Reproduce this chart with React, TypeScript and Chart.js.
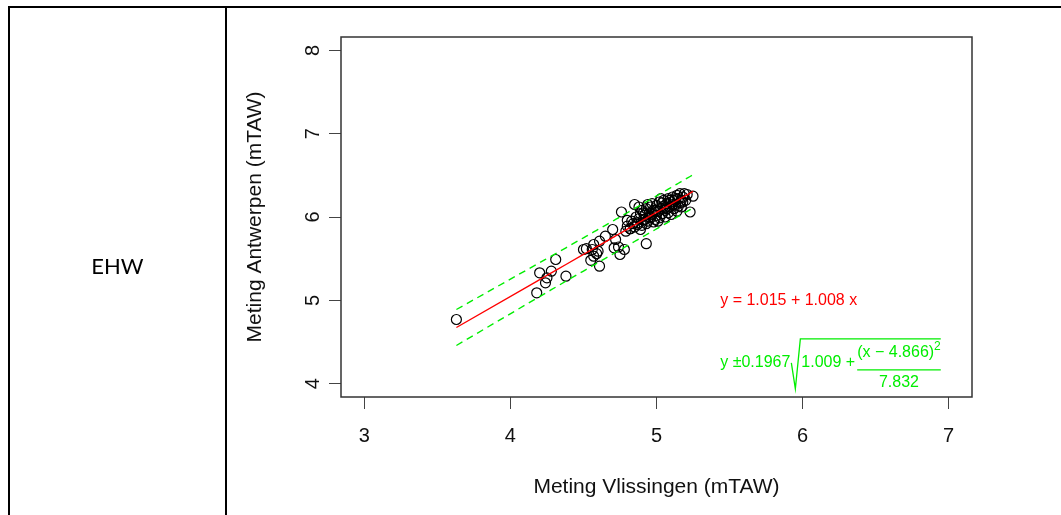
import React, { useEffect, useRef } from "react";
import { Chart, registerables } from "chart.js";

Chart.register(...registerables);

// ---- axis data ----
const xTicks = [3, 4, 5, 6, 7];
const yTicks = [4, 5, 6, 7, 8];
const xLimits = [2.84, 7.16];
const yLimits = [3.84, 8.16];

// ---- observations (Vlissingen x, Antwerpen y) ----
const vlissingen = [
  3.63, 4.18, 4.2, 4.24, 4.25, 4.28, 4.31, 4.38,
  4.5, 4.52, 4.55, 4.56, 4.57, 4.57, 4.59, 4.6, 4.61, 4.61, 4.65, 4.7, 4.71, 4.72, 4.74, 4.75,
  4.76, 4.78, 4.79, 4.8, 4.8, 4.82, 4.84, 4.85, 4.89, 4.93, 4.94, 4.98,
  4.82, 4.83, 4.85, 4.86, 4.87, 4.88, 4.89, 4.9, 4.9, 4.91, 4.92, 4.93, 4.94, 4.95, 4.96, 4.96,
  4.97, 4.98, 4.99, 5.0, 5.0, 5.01, 5.02, 5.02, 5.03, 5.04, 5.05, 5.05, 5.06, 5.06, 5.07, 5.08,
  5.08, 5.09, 5.1, 5.1, 5.11, 5.12, 5.12, 5.13, 5.14, 5.14, 5.15, 5.16, 5.16, 5.17, 5.18, 5.19,
  5.2, 5.21, 5.23, 5.25, 4.88, 4.97, 5.03, 4.93, 5.01, 5.09, 4.95, 5.04, 5.13, 5.07, 5.0, 4.91,
  5.15, 5.18, 4.87, 4.99, 5.11, 5.06, 4.92, 5.17
];
const antwerpen = [
  4.77, 5.09, 5.33, 5.21, 5.27, 5.35, 5.49, 5.29,
  5.61, 5.62, 5.48, 5.61, 5.53, 5.67, 5.56, 5.59, 5.41, 5.71, 5.77, 5.85, 5.63, 5.73, 5.64, 5.55,
  6.06, 5.61, 5.83, 5.89, 5.96, 5.86, 5.92, 6.15, 5.85, 5.68, 6.15, 5.94,
  5.86, 5.95, 5.88, 6.0, 5.93, 5.98, 6.04, 5.9, 6.08, 5.97, 6.02, 6.1, 5.95, 6.05, 5.99, 6.12,
  6.03, 6.08, 5.97, 6.02, 6.14, 6.07, 5.99, 6.18, 6.1, 6.04, 6.13, 6.2, 6.0, 6.08, 6.16, 6.05,
  6.22, 6.12, 6.18, 6.03, 6.24, 6.1, 6.2, 6.15, 6.26, 6.07, 6.22, 6.17, 6.28, 6.12, 6.24, 6.28,
  6.2, 6.27, 6.06, 6.25, 6.12, 6.16, 6.22, 5.92, 5.95, 6.2, 6.0, 6.17, 6.22, 6.1, 6.08, 6.05,
  6.13, 6.18, 5.91, 6.06, 6.15, 6.11, 5.97, 6.2
];

// ---- regression shown in the figure ----
const fitIntercept = 1.015;
const fitSlope = 1.008;
const bandFactor = 0.1967;
const bandConst = 1.009;
const bandMeanX = 4.866;
const bandSxx = 7.832;

// ---- texts ----
const xTitle = "Meting Vlissingen (mTAW)";
const yTitle = "Meting Antwerpen (mTAW)";
const rowLabel = "EHW";
const fitLabel = "y = 1.015 + 1.008 x";
const bandPrefix = "y \u00B10.1967";
const bandInner = "1.009 +";
const bandNum = "(x \u2212 4.866)";
const bandSup = "2";
const bandDen = "7.832";
const labelAnchorX = 5.436;
const fitLabelY = 5.0;
const bandLabelY = 4.25;

const FONT = "'Liberation Sans', Arial, Helvetica, sans-serif";
const RED = "#ff0000";
const GREEN = "#00ee00";

const lineXs = Array.from(new Set(vlissingen)).sort((a, b) => a - b);
const fitPts = lineXs.map((x) => ({ x, y: fitIntercept + fitSlope * x }));
const halfWidth = (x: number) =>
  bandFactor * Math.sqrt(bandConst + ((x - bandMeanX) * (x - bandMeanX)) / bandSxx);
const upperPts = lineXs.map((x) => ({ x, y: fitIntercept + fitSlope * x + halfWidth(x) }));
const lowerPts = lineXs.map((x) => ({ x, y: fitIntercept + fitSlope * x - halfWidth(x) }));
const scatterPts = vlissingen.map((x, i) => ({ x, y: antwerpen[i] }));

const overlayPlugin = {
  id: "overlay",
  afterDraw(chart: any) {
    const { ctx, chartArea, scales } = chart;
    const xs = scales.x;
    const ys = scales.y;
    ctx.save();
    // box
    ctx.strokeStyle = "#333";
    ctx.lineWidth = 1.5;
    ctx.strokeRect(chartArea.left, chartArea.top, chartArea.right - chartArea.left, chartArea.bottom - chartArea.top);

    // red fit label
    const x0 = xs.getPixelForValue(labelAnchorX);
    ctx.font = `16px ${FONT}`;
    ctx.textBaseline = "middle";
    ctx.textAlign = "left";
    ctx.fillStyle = RED;
    ctx.fillText(fitLabel, x0, ys.getPixelForValue(fitLabelY));

    // green band label
    const ym = ys.getPixelForValue(bandLabelY);
    ctx.fillStyle = GREEN;
    ctx.strokeStyle = GREEN;
    ctx.lineWidth = 1.3;
    ctx.font = `16px ${FONT}`;
    ctx.fillText(bandPrefix, x0, ym);
    const w1 = ctx.measureText(bandPrefix).width;
    const sx = x0 + w1 + 1;
    const innerX = sx + 10;
    const wInner = ctx.measureText(bandInner).width;
    const numW = ctx.measureText(bandNum).width;
    const denW = ctx.measureText(bandDen).width;
    ctx.font = `12px ${FONT}`;
    const supW = ctx.measureText(bandSup).width;
    const fracX = innerX + wInner + 2;
    const fracW = Math.max(numW + supW, denW);
    const fracEnd = fracX + fracW;
    // radical
    ctx.beginPath();
    ctx.moveTo(sx, ym);
    ctx.lineTo(sx + 4, ym + 26);
    ctx.lineTo(sx + 9, ym - 24);
    ctx.lineTo(fracEnd, ym - 24);
    ctx.stroke();
    // fraction bar
    ctx.beginPath();
    ctx.moveTo(fracX, ym + 7);
    ctx.lineTo(fracEnd, ym + 7);
    ctx.stroke();
    ctx.font = `16px ${FONT}`;
    ctx.fillText(bandInner, innerX, ym);
    const numStart = fracX;
    ctx.fillText(bandNum, numStart, ym - 10);
    ctx.font = `12px ${FONT}`;
    ctx.fillText(bandSup, numStart + numW, ym - 16);
    ctx.font = `16px ${FONT}`;
    ctx.textAlign = "center";
    ctx.fillText(bandDen, fracX + fracW / 2, ym + 20);
    ctx.restore();
  },
};

export default function App() {
  const ref = useRef<HTMLCanvasElement | null>(null);
  useEffect(() => {
    if (!ref.current) return;
    Chart.defaults.font.family = FONT;
    const chart = new Chart(ref.current, {
      type: "scatter",
      data: {
        datasets: [
          {
            type: "line",
            data: fitPts,
            borderColor: RED,
            borderWidth: 1.4,
            pointRadius: 0,
            fill: false,
            tension: 0,
          } as any,
          {
            type: "line",
            data: upperPts,
            borderColor: GREEN,
            borderWidth: 1.4,
            borderDash: [7, 5],
            pointRadius: 0,
            fill: false,
            tension: 0,
          } as any,
          {
            type: "line",
            data: lowerPts,
            borderColor: GREEN,
            borderWidth: 1.4,
            borderDash: [7, 5],
            pointRadius: 0,
            fill: false,
            tension: 0,
          } as any,
          {
            type: "scatter",
            data: scatterPts,
            pointStyle: "circle",
            pointRadius: 5,
            pointBorderWidth: 1.2,
            pointBorderColor: "#000",
            pointBackgroundColor: "rgba(0,0,0,0)",
          } as any,
        ],
      },
      options: {
        animation: false,
        responsive: false,
        devicePixelRatio: 1,
        layout: { padding: { left: 230, top: 37, right: 89, bottom: 0 } },
        plugins: { legend: { display: false }, tooltip: { enabled: false } },
        scales: {
          x: {
            type: "linear",
            position: "bottom",
            min: xLimits[0],
            max: xLimits[1],
            afterBuildTicks: (s: any) => {
              s.ticks = xTicks.map((v) => ({ value: v }));
            },
            afterFit: (s: any) => {
              s.height = 118;
            },
            grid: { display: true, drawOnChartArea: false, drawTicks: true, tickLength: 12, color: "#444", lineWidth: 1 },
            border: { display: false },
            ticks: {
              autoSkip: false,
              minRotation: 0,
              maxRotation: 0,
              padding: 15,
              color: "#111",
              font: { size: 20 },
              callback: (v: any) => String(v),
            },
            title: { display: true, text: xTitle, color: "#111", font: { size: 21 }, padding: { top: 0, bottom: 15 } },
          },
          y: {
            type: "linear",
            position: "left",
            min: yLimits[0],
            max: yLimits[1],
            afterBuildTicks: (s: any) => {
              s.ticks = yTicks.map((v) => ({ value: v }));
            },
            afterFit: (s: any) => {
              s.width = 111;
            },
            grid: { display: true, drawOnChartArea: false, drawTicks: true, tickLength: 12, color: "#444", lineWidth: 1 },
            border: { display: false },
            ticks: {
              autoSkip: false,
              minRotation: 90,
              maxRotation: 90,
              crossAlign: "center",
              padding: 10,
              color: "#111",
              font: { size: 20 },
              callback: (v: any) => String(v),
            },
            title: { display: true, text: yTitle, color: "#111", font: { size: 21 }, padding: { top: 13, bottom: 0 } },
          },
        },
      } as any,
      plugins: [overlayPlugin],
    });
    return () => chart.destroy();
  }, []);

  return (
    <div style={{ position: "absolute", left: 0, top: 0, width: 1061, height: 515, background: "#fff", overflow: "hidden" }}>
      <canvas ref={ref} width={1061} height={515} style={{ position: "absolute", left: 0, top: 0 }} />
      <div style={{ position: "absolute", left: 8, top: 6, width: 1053, height: 2, background: "#000" }} />
      <div style={{ position: "absolute", left: 8, top: 6, width: 2, height: 509, background: "#000" }} />
      <div style={{ position: "absolute", left: 225, top: 6, width: 2, height: 509, background: "#000" }} />
      <div
        style={{
          position: "absolute",
          left: 10,
          width: 215,
          top: 252,
          textAlign: "center",
          fontFamily: "Lato, 'Open Sans', sans-serif",
          fontSize: 22,
          lineHeight: "28px",
          color: "#000",
        }}
      >
        {rowLabel}
      </div>
    </div>
  );
}
